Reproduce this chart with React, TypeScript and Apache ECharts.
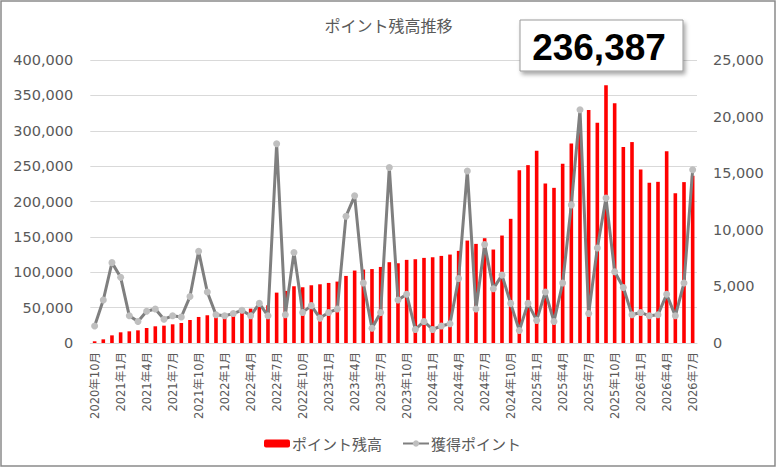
import React, { useEffect, useRef } from "react";
import * as echarts from "echarts";

const categories: string[] = [
  "2020年10月", "2020年11月", "2020年12月",
  "2021年1月", "2021年2月", "2021年3月", "2021年4月", "2021年5月", "2021年6月",
  "2021年7月", "2021年8月", "2021年9月", "2021年10月", "2021年11月", "2021年12月",
  "2022年1月", "2022年2月", "2022年3月", "2022年4月", "2022年5月", "2022年6月",
  "2022年7月", "2022年8月", "2022年9月", "2022年10月", "2022年11月", "2022年12月",
  "2023年1月", "2023年2月", "2023年3月", "2023年4月", "2023年5月", "2023年6月",
  "2023年7月", "2023年8月", "2023年9月", "2023年10月", "2023年11月", "2023年12月",
  "2024年1月", "2024年2月", "2024年3月", "2024年4月", "2024年5月", "2024年6月",
  "2024年7月", "2024年8月", "2024年9月", "2024年10月", "2024年11月", "2024年12月",
  "2025年1月", "2025年2月", "2025年3月", "2025年4月", "2025年5月", "2025年6月",
  "2025年7月", "2025年8月", "2025年9月", "2025年10月", "2025年11月", "2025年12月",
  "2026年1月", "2026年2月", "2026年3月", "2026年4月", "2026年5月", "2026年6月",
  "2026年7月",
];

// ポイント残高 (left axis)
const balance: number[] = [
  2400, 5200, 10800,
  15100, 16500, 17900, 21200, 23600, 24500, 26400, 28300, 32500, 36800, 39200, 38000,
  39500, 41000, 42500, 48600, 53300, 53300, 71200, 73600, 80200, 78800, 81600, 83000,
  84900, 86800, 94800, 102400, 103800, 104500, 107500, 114200, 112700, 117500, 118400, 120300,
  121200, 123100, 125000, 130200, 144800, 140100, 148100, 132100, 151900, 175500, 244300, 251400,
  271700, 225500, 219300, 253300, 282100, 300000, 329200, 311300, 364200, 338700, 276900, 284000,
  245300, 226400, 227800, 271200, 211800, 227400, 236387,
];

// 獲得ポイント (right axis)
const earned: number[] = [
  1500, 3800, 7100,
  5800, 2400, 1900, 2800, 3000, 2100, 2400, 2300, 4100, 8100, 4500, 2500,
  2400, 2600, 2900, 2400, 3500, 2400, 17600, 2500, 8000, 2700, 3300, 2200,
  2700, 3000, 11200, 13000, 5300, 1300, 2700, 15500, 3800, 4300, 1200, 1900,
  1200, 1500, 1700, 5700, 15200, 3000, 8700, 4800, 6000, 3500, 1100, 3500,
  2000, 4500, 1900, 5300, 12200, 20600, 2600, 8400, 12800, 6300, 4900, 2500,
  2700, 2400, 2500, 4300, 2400, 5300, 15300,
];

const latestValue = "236,387";
const titleText = "ポイント残高推移";
const seriesNames = ["ポイント残高", "獲得ポイント"];

const fmt = (v: number) => String(v).replace(/\B(?=(\d{3})+(?!\d))/g, ",");

export default function App() {
  const ref = useRef<HTMLDivElement>(null);
  useEffect(() => {
    if (!ref.current) return;
    const chart = echarts.init(ref.current, undefined, { renderer: "svg" });
    const labelColor = "#595959";
    const numFont = "'DejaVu Sans', 'Noto Sans CJK JP', sans-serif";
    const cjkFont = "'Noto Sans CJK JP', sans-serif";
    chart.setOption({
      animation: false,
      backgroundColor: "#ffffff",
      title: {
        text: titleText,
        left: "center",
        top: 17,
        padding: 0,
        textStyle: { color: labelColor, fontSize: 16, fontWeight: "normal", fontFamily: cjkFont },
      },
      legend: {
        left: 259,
        top: 431,
        itemGap: 20,
        itemWidth: 26,
        itemHeight: 8,
        textStyle: { color: labelColor, fontSize: 15, fontFamily: cjkFont, padding: [0, 0, 0, -3] },
        data: seriesNames,
      },
      grid: { left: 90.3, right: 80, top: 60, bottom: 126, containLabel: false },
      xAxis: {
        type: "category",
        data: categories,
        boundaryGap: true,
        axisLine: { lineStyle: { color: "#d9d9d9", width: 1 } },
        axisTick: { interval: 2, length: 4, lineStyle: { color: "#d9d9d9" } },
        axisLabel: {
          interval: 2,
          rotate: 90,
          margin: 9,
          color: labelColor,
          fontSize: 11.5,
          fontFamily: numFont,
        },
      },
      yAxis: [
        {
          type: "value",
          min: 0,
          max: 400000,
          interval: 50000,
          axisLine: { show: false },
          axisTick: { show: false },
          splitLine: { lineStyle: { color: "#d9d9d9", width: 1 } },
          axisLabel: {
            margin: 17,
            color: labelColor,
            fontSize: 14.5,
            fontFamily: numFont,
            formatter: (v: number) => fmt(v),
          },
        },
        {
          type: "value",
          min: 0,
          max: 25000,
          interval: 5000,
          position: "right",
          axisLine: { show: false },
          axisTick: { show: false },
          splitLine: { show: false },
          axisLabel: {
            margin: 16,
            color: labelColor,
            fontSize: 14.5,
            fontFamily: numFont,
            formatter: (v: number) => fmt(v),
          },
        },
      ],
      series: [
        {
          name: seriesNames[0],
          type: "bar",
          yAxisIndex: 0,
          data: balance,
          barWidth: 3.6,
          itemStyle: { color: "#ff0000" },
        },
        {
          name: seriesNames[1],
          type: "line",
          yAxisIndex: 1,
          data: earned,
          symbol: "circle",
          symbolSize: 7,
          showAllSymbol: true,
          lineStyle: { color: "#7f7f7f", width: 3 },
          itemStyle: { color: "#bfbfbf", borderWidth: 0 },
          z: 3,
        },
      ],
      graphic: [
        {
          type: "rect",
          z: 100,
          shape: { x: 1, y: 1, width: 774, height: 465 },
          style: { fill: "none", stroke: "#8a8a8a", lineWidth: 1.5 },
          silent: true,
        },
        {
          type: "rect",
          z: 100,
          shape: { x: 520, y: 20, width: 163, height: 51 },
          style: {
            fill: "#ffffff",
            stroke: "#9a9a9a",
            lineWidth: 1,
            shadowBlur: 4,
            shadowOffsetX: 2,
            shadowOffsetY: 3,
            shadowColor: "rgba(0,0,0,0.35)",
          },
        },
        {
          type: "text",
          z: 101,
          x: 599,
          y: 47,
          style: {
            text: latestValue,
            fill: "#000000",
            fontSize: 37,
            fontWeight: "bold",
            fontFamily: "'Liberation Sans', Arial, sans-serif",
            align: "center",
            verticalAlign: "middle",
          },
        },
      ],
    });
    return () => chart.dispose();
  }, []);
  return (
    <div
      ref={ref}
      style={{ position: "absolute", left: 0, top: 0, width: 777, height: 469 }}
    />
  );
}
